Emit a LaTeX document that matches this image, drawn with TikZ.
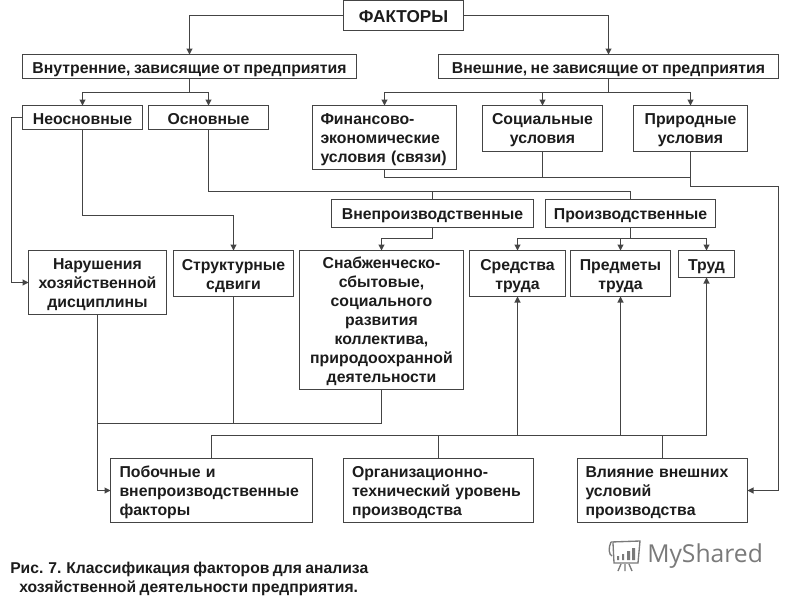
\documentclass[tikz,border=0pt]{standalone}
\usepackage{fontspec}
\setmainfont[WordSpace=0.8]{Liberation Sans}
\newfontfamily\logofont{Open Sans}
\usetikzlibrary{arrows.meta}
\definecolor{ink}{HTML}{1C1C1C}
\definecolor{wire}{HTML}{444444}
\definecolor{logoc}{HTML}{7A7A7A}
\tikzset{
  box/.style={draw=wire,line width=0.8pt,rectangle,inner sep=0pt,outer sep=0pt,align=center,text=ink,
    font=\fontsize{11.85}{14.25}\selectfont\bfseries},
  leftbox/.style={align=left,text width=#1*0.75pt},
  wirel/.style={draw=wire,line width=0.8pt},
  arr/.style={wirel,-{Triangle[length=4.5pt,width=4.5pt]}},
  caption/.style={anchor=west,inner sep=0pt,text=ink,font=\fontsize{11.75}{14}\selectfont\bfseries},
  logotext/.style={anchor=west,inner sep=0pt,text=logoc,font=\fontsize{18.5}{20}\selectfont\logofont},
  logoline/.style={draw=logoc,line width=1pt}
}
\newcommand\boxat[7][]{\node[box,#1,minimum width={(#4-#2)*0.75pt},minimum height={(#5-#3)*0.75pt}] (#6) at ({(#2+#4)/2},{(#3+#5)/2}) {#7};}
\newcommand\tp[1]{\rule{0pt}{\dimexpr 8.55pt+#1pt*3/2\relax}}
\begin{document}
\begin{tikzpicture}[x=0.75pt,y=-0.75pt]
\useasboundingbox (0,0) rectangle (800,600);
\fill[white] (0,0) rectangle (800,600);
\boxat{343.5}{0.5}{463.5}{30.5}{fa}{\fontsize{12.9}{14}\selectfont\tp{1}ФАКТОРЫ}
\boxat{22.5}{54.5}{356.5}{78.5}{vn}{\tp{3}Внутренние, зависящие от предприятия}
\boxat{438.5}{54.5}{778.5}{78.5}{ve}{\tp{3}Внешние, не зависящие от предприятия}
\boxat{22.5}{105.5}{142.5}{129.5}{neo}{\tp{1}Неосновные}
\boxat{148.5}{105.5}{268.5}{129.5}{osn}{\tp{1}Основные}
\boxat[leftbox=128]{312.5}{105.5}{456.5}{169.5}{fin}{\tp{1.5}Финансово-\\экономические\\условия (связи)}
\boxat{482.5}{105.5}{602.5}{151.5}{soc}{\tp{1}Социальные\\условия}
\boxat{633.5}{105.5}{747.5}{151.5}{pri}{\tp{1}Природные\\условия}
\boxat{331.5}{199.5}{533.5}{227.5}{vpr}{\tp{2}Внепроизводственные}
\boxat{545.5}{199.5}{715.5}{227.5}{pro}{\tp{2}Производственные}
\boxat{28.5}{250.5}{166.5}{314.5}{nar}{\tp{1.5}Нарушения\\хозяйственной\\дисциплины}
\boxat{173.5}{250.5}{293.5}{296.5}{str}{\tp{2}Структурные\\сдвиги}
\boxat{299.5}{250.5}{463.5}{389.5}{sna}{\tp{1}Снабженческо-\\сбытовые,\\социального\\развития\\коллектива,\\природоохранной\\деятельности}
\boxat{469.5}{250.5}{565.5}{296.5}{sre}{\tp{2}Средства\\труда}
\boxat{570.5}{250.5}{670.5}{296.5}{pre}{\tp{2}Предметы\\труда}
\boxat{678.5}{250.5}{734.5}{277.5}{tru}{\tp{2}Труд}
\boxat[leftbox=184]{110.5}{458.5}{312.5}{522.5}{pob}{\tp{1.5}Побочные и\\внепроизводственные\\факторы}
\boxat[leftbox=173]{343.5}{458.5}{533.5}{522.5}{org}{\tp{1.5}Организационно-\\технический уровень\\производства}
\boxat[leftbox=154]{577.5}{458.5}{747.5}{522.5}{vli}{\tp{1.5}Влияние внешних\\условий\\производства}
% bus levels
\coordinate (b1) at (0,92.5);
\coordinate (b2) at (0,177.5);
\coordinate (b3) at (0,191.5);
\coordinate (b4) at (0,238.5);
\coordinate (b5) at (0,423.5);
\coordinate (b6) at (0,435.5);
\coordinate (pe) at (0,186.5);
\coordinate (lft) at (11.5,0);
\coordinate (rgt) at (778.5,0);
% top
\draw[arr] (fa.west) -| (vn.north);
\draw[arr] (fa.east) -| (ve.north);
\draw[arr] (vn.south) |- (b1 -| neo.north) -- (neo.north);
\draw[arr] (vn.south) |- (b1 -| osn.north) -- (osn.north);
\draw[arr] (ve.south) |- (b1 -| fin.north) -- (fin.north);
\draw[arr] (ve.south) |- (b1 -| soc.north) -- (soc.north);
\draw[arr] (ve.south) |- (b1 -| pri.north) -- (pri.north);
% side
\draw[arr] (neo.west) -- (neo.west -| lft) |- (nar.west |- 0,282.5) ;
\draw[arr] (neo.south) |- (str.north |- 0,215.5) -- (str.north);
% osn to vpr/pro
\draw[wirel] (osn.south) |- (pro.north |- b3) -- (pro.north);
\draw[wirel] (vpr.north |- b3) -- (vpr.north);
% fin/soc/pri
\draw[wirel] (fin.south) |- (pri.south |- b2);
\draw[wirel] (soc.south) -- (soc.south |- b2);
\draw[arr] (pri.south) |- (rgt |- pe) |- (vli.east);
% vpr,pro
\draw[arr] (vpr.south) |- (sna.north |- b4) -- (sna.north);
\draw[arr] (pro.south) |- (sre.north |- b4) -- (sre.north);
\draw[arr] (pro.south) |- (pre.north |- b4) -- (pre.north);
\draw[arr] (pro.south) |- (tru.north |- b4) -- (tru.north);
% lower left
\draw[arr] (nar.south) |- (pob.west);
\draw[wirel] (str.south) -- (str.south |- b5);
\draw[wirel] (sna.south) |- (nar.south |- b5);
% lower right
\draw[arr] (pob.north) |- (tru.south |- b6) -- (tru.south);
\draw[wirel] (org.north) -- (org.north |- b6);
\draw[wirel] (vli.north) -- (vli.north |- b6);
\draw[arr] (sre.south |- b6) -- (sre.south);
\draw[arr] (pre.south |- b6) -- (pre.south);
% caption
\node[caption] (c1) at (10,569) {Рис. 7. Классификация факторов для анализа};
\node[caption] (c2) at (19,588) {хозяйственной деятельности предприятия.};
% logo
\node[logotext] (logo) at (647,556) {MyShared};
\draw[logoline] (611,542) -- (640,541) -- (638,563) -- (614,563) -- (613,543);
\draw[logoline] (611,542) .. controls (608,548) and (609,555) .. (612,556);
\draw[logoline] (618,571) -- (621,564) (625,571) -- (625,564) (632,571) -- (629,564);
\fill[logoc] (617,556) rectangle (619,560) (622,554) rectangle (624,560) (627,551) rectangle (630,560) (632,548) rectangle (635,560);
\end{tikzpicture}
\end{document}
